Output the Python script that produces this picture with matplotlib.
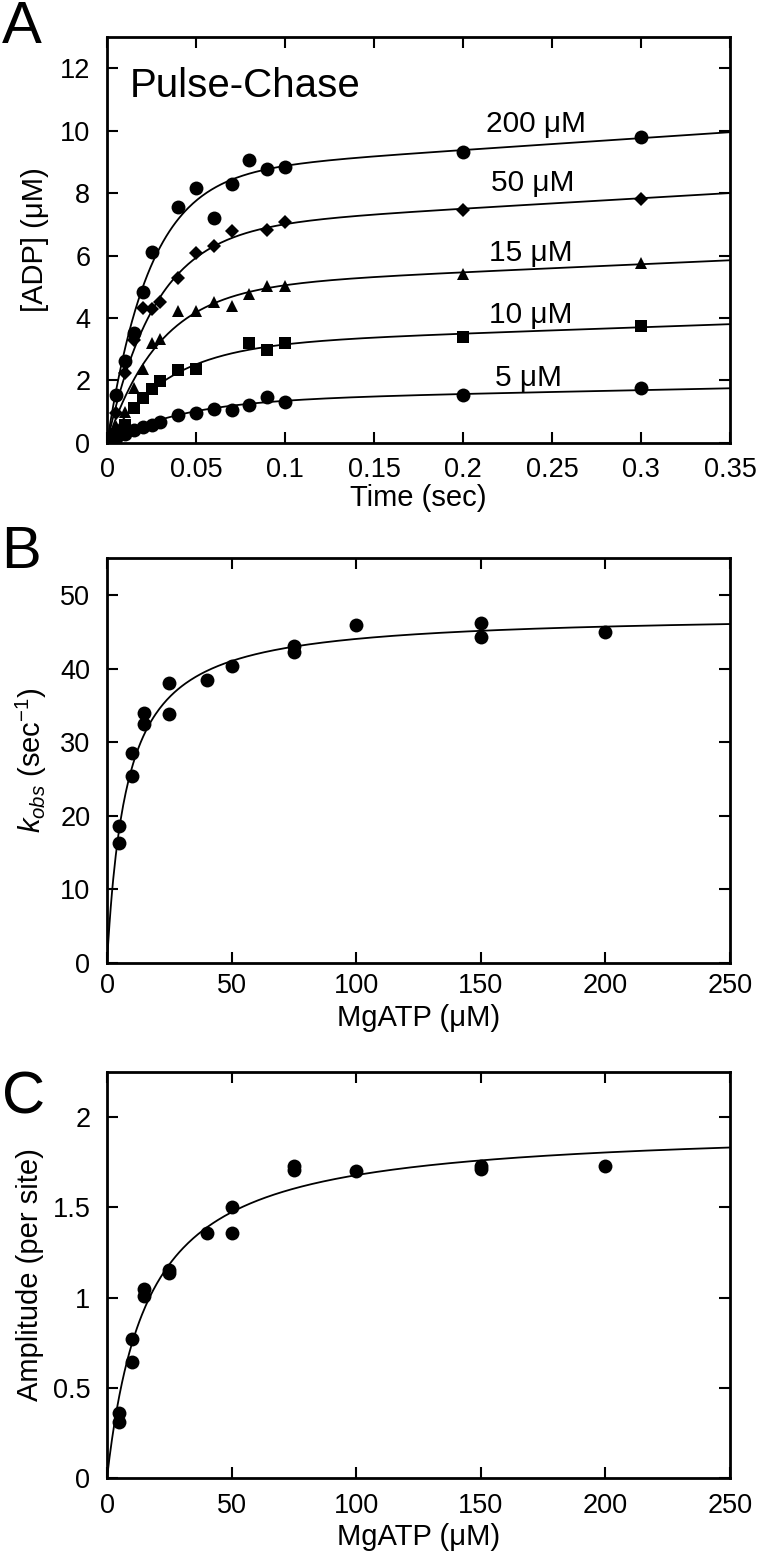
import numpy as np
import matplotlib.pyplot as plt
from matplotlib.ticker import FormatStrFormatter, MultipleLocator

plt.rcParams['font.family'] = ['Liberation Sans', 'DejaVu Sans']
plt.rcParams['mathtext.fontset'] = 'custom'
plt.rcParams['mathtext.rm'] = 'Liberation Sans'
plt.rcParams['mathtext.it'] = 'Liberation Sans:italic'

# --- Panel A: pulse-chase time courses, [ADP] (uM) vs time (s) ---
t_200 = [0, 0.005, 0.01, 0.015, 0.02, 0.025, 0.04, 0.05, 0.06, 0.07, 0.08, 0.09, 0.1, 0.2, 0.3]
adp_200 = [0, 1.55, 2.62, 3.53, 4.82, 6.1, 7.55, 8.15, 7.2, 8.28, 9.06, 8.77, 8.83, 9.3, 9.8]

t_50 = [0, 0.005, 0.01, 0.015, 0.02, 0.025, 0.03, 0.04, 0.05, 0.06, 0.07, 0.09, 0.1, 0.2, 0.3]
adp_50 = [0, 0.95, 2.25, 3.3, 4.32, 4.3, 4.5, 5.28, 6.07, 6.32, 6.78, 6.83, 7.08, 7.45, 7.8]

t_15 = [0, 0.005, 0.01, 0.015, 0.02, 0.025, 0.03, 0.04, 0.05, 0.06, 0.07, 0.08, 0.09, 0.1, 0.2, 0.3]
adp_15 = [0, 0.55, 1.0, 1.75, 2.38, 3.2, 3.33, 4.22, 4.23, 4.52, 4.4, 4.78, 5.03, 5.03, 5.4, 5.75]

t_10 = [0, 0.005, 0.01, 0.015, 0.02, 0.025, 0.03, 0.04, 0.05, 0.08, 0.09, 0.1, 0.2, 0.3]
adp_10 = [0, 0.3, 0.58, 1.12, 1.45, 1.72, 1.98, 2.34, 2.38, 3.2, 2.98, 3.2, 3.4, 3.75]

t_5 = [0, 0.005, 0.01, 0.015, 0.02, 0.025, 0.03, 0.04, 0.05, 0.06, 0.07, 0.08, 0.09, 0.1, 0.2, 0.3]
adp_5 = [0, 0.15, 0.3, 0.42, 0.52, 0.57, 0.68, 0.89, 0.97, 1.08, 1.05, 1.22, 1.47, 1.3, 1.52, 1.75]

# burst fit parameters: amplitude, rate (1/s), steady-state rate (uM/s)
fit_A = {'200': (8.62, 42, 3.8), '50': (6.84, 37, 3.32), '15': (4.96, 34, 2.54),
         '10': (3.11, 30, 1.98), '5': (1.344, 25, 1.16)}

conc_labels = ['200 μM', '50 μM', '15 μM', '10 μM', '5 μM']
label_x = [0.241, 0.239, 0.238, 0.238, 0.237]
label_y = [10.22, 8.33, 6.09, 4.1, 2.08]

# --- Panel B: kobs vs MgATP ---
atp_b = [5, 5, 10, 10, 15, 15, 25, 25, 40, 50, 75, 75, 100, 150, 150, 200]
kobs = [18.6, 16.3, 28.5, 25.4, 34.0, 32.4, 38.0, 33.8, 38.5, 40.4, 43.1, 42.2, 45.9, 46.2, 44.3, 44.9]
fit_B = (47.5, 7.9)   # kmax, K1/2

# --- Panel C: burst amplitude vs MgATP ---
atp_c = [5, 5, 10, 10, 15, 15, 25, 25, 40, 50, 50, 75, 75, 100, 150, 150, 200]
amp = [0.36, 0.31, 0.77, 0.645, 1.05, 1.01, 1.155, 1.135, 1.36, 1.50, 1.36, 1.728, 1.708, 1.70, 1.73, 1.71, 1.73]
fit_C = (1.95, 16.2)  # Amax, K1/2

FS_TICK = 19.5
FS_LABEL = 21


def style_axes(ax, xpad):
    for s in ax.spines.values():
        s.set_linewidth(2.0)
    ax.tick_params(direction='in', length=8, width=1.5, top=True, right=True,
                   labelsize=FS_TICK)
    ax.tick_params(axis='x', pad=xpad)
    ax.tick_params(axis='y', pad=12)


fig = plt.figure(figsize=(7.6, 15.52), dpi=100)
axA = fig.add_axes([0.1408, 0.7146, 0.8197, 0.2616])
axB = fig.add_axes([0.1408, 0.3795, 0.8197, 0.2609])
axC = fig.add_axes([0.1408, 0.0477, 0.8197, 0.2616])

# Panel A
series = [(t_200, adp_200, 'o', 10, '200'), (t_50, adp_50, 'D', 6.8, '50'),
          (t_15, adp_15, '^', 9, '15'), (t_10, adp_10, 's', 9, '10'),
          (t_5, adp_5, 'o', 10, '5')]
tt = np.linspace(0, 0.35, 400)
for t, y, mk, ms, key in series:
    a, k, v = fit_A[key]
    axA.plot(tt, a * (1 - np.exp(-k * tt)) + v * tt, color='black', lw=1.3, zorder=2)
    axA.plot(t, y, linestyle='none', marker=mk, ms=ms, color='black', mew=0, zorder=3)
for lab, x, y in zip(conc_labels, label_x, label_y):
    axA.text(x, y, lab, fontsize=21.5, ha='center', va='center')
axA.text(0.0129, 11.09, 'Pulse-Chase', fontsize=29, ha='left', va='baseline')
axA.set_xlim(0, 0.35)
axA.set_ylim(0, 13)
axA.xaxis.set_major_locator(MultipleLocator(0.05))
axA.yaxis.set_major_locator(MultipleLocator(2))
axA.xaxis.set_major_formatter(FormatStrFormatter('%g'))
axA.set_xlabel('Time (sec)', fontsize=FS_LABEL, labelpad=0.5)
axA.set_ylabel('[ADP] (μM)', fontsize=FS_LABEL, labelpad=8)
style_axes(axA, 10)

# Panel B
xx = np.linspace(0, 250, 500)
axB.plot(xx, fit_B[0] * xx / (fit_B[1] + xx), color='black', lw=1.3, zorder=2)
axB.plot(atp_b, kobs, linestyle='none', marker='o', ms=10, color='black', mew=0, zorder=3)
axB.set_xlim(0, 250)
axB.set_ylim(0, 55)
axB.xaxis.set_major_locator(MultipleLocator(50))
axB.yaxis.set_major_locator(MultipleLocator(10))
axB.set_xlabel('MgATP (μM)', fontsize=FS_LABEL, labelpad=4)
axB.set_ylabel(r'$k_{obs}$ (sec$^{-1}$)', fontsize=FS_LABEL, labelpad=8)
style_axes(axB, 7)

# Panel C
axC.plot(xx, fit_C[0] * xx / (fit_C[1] + xx), color='black', lw=1.3, zorder=2)
axC.plot(atp_c, amp, linestyle='none', marker='o', ms=10, color='black', mew=0, zorder=3)
axC.set_xlim(0, 250)
axC.set_ylim(0, 2.25)
axC.xaxis.set_major_locator(MultipleLocator(50))
axC.yaxis.set_major_locator(MultipleLocator(0.5))
axC.yaxis.set_major_formatter(FormatStrFormatter('%g'))
axC.set_xlabel('MgATP (μM)', fontsize=FS_LABEL, labelpad=3)
axC.set_ylabel('Amplitude (per site)', fontsize=FS_LABEL, labelpad=6)
style_axes(axC, 10.5)

# panel letters
fig.text(0.002, 1 - 43 / 1552, 'A', fontsize=43, va='baseline')
fig.text(0.002, 1 - 568 / 1552, 'B', fontsize=43, va='baseline')
fig.text(0.002, 1 - 1114 / 1552, 'C', fontsize=43, va='baseline')

fig.savefig('out.png', dpi=100)
